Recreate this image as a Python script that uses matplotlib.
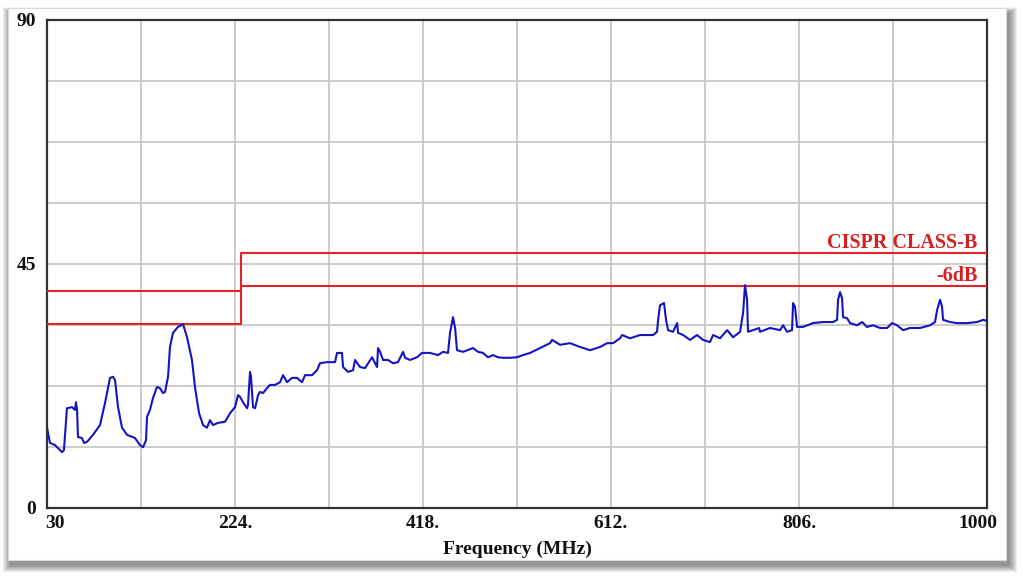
import matplotlib
matplotlib.use("Agg")
import matplotlib.pyplot as plt
import numpy as np
from matplotlib.patches import Rectangle
from matplotlib import transforms

# ---- data ----
freq_mhz = [30, 33.1, 38.3, 45.5, 47.5, 50.6, 55.8, 58.9, 59.9, 61.0, 62.0, 66.1, 68.2, 71.3, 77.5,
            84.7, 89.9, 95.0, 98.1, 100.2, 103.3, 107.4, 112.6, 120.8, 126.0, 129.1, 132.2, 133.2,
            136.3, 139.4, 143.5, 146.6, 149.7, 151.8, 154.9, 156.9, 160.0, 165.2, 170.4, 174.5,
            179.6, 182.7, 186.9, 191.0, 195.1, 198.2, 201.3, 206.5, 213.7, 218.9, 224.0, 227.1,
            229.2, 232.3, 236.4, 237.4, 239.5, 240.5, 242.6, 244.7, 247.8, 249.8, 252.9, 257.0,
            260.1, 265.3, 270.5, 273.6, 277.7, 282.8, 288.0, 293.2, 296.3, 303.5, 308.6, 311.7,
            319.0, 327.2, 329.3, 334.4, 335.5, 340.6, 345.8, 347.9, 353.0, 358.2, 365.4, 370.6,
            371.6, 373.7, 376.8, 381.9, 387.1, 392.2, 397.4, 399.5, 404.6, 411.8, 417.0, 425.3,
            433.5, 438.7, 443.8, 445.9, 449.0, 451.1, 453.1, 459.3, 469.6, 474.8, 479.9, 485.1,
            490.3, 495.4, 500.6, 507.8, 515.0, 521.2, 528.5, 538.8, 549.1, 551.2, 559.4, 569.7,
            580.1, 590.4, 600.7, 607.9, 614.1, 621.3, 623.4, 631.7, 642.0, 649.2, 655.4, 659.5,
            660.6, 662.6, 666.7, 668.8, 670.9, 676.0, 680.2, 681.2, 686.4, 693.6, 700.8, 707.0,
            714.2, 717.3, 724.5, 731.8, 738.0, 745.2, 748.3, 750.3, 752.4, 753.4, 758.6, 764.8,
            765.8, 776.1, 786.5, 789.6, 793.7, 798.8, 799.9, 801.9, 804.0, 810.2, 820.5, 830.8,
            841.2, 845.3, 846.3, 848.4, 850.4, 851.5, 855.6, 858.7, 865.9, 871.1, 876.2, 882.4,
            889.7, 896.9, 902.0, 907.2, 913.4, 920.6, 930.9, 941.3, 946.4, 948.5, 951.6, 953.6,
            954.7, 961.9, 969.1, 979.4, 989.8, 996.0, 1000]
level_db = [14.8, 12.0, 11.6, 10.3, 10.7, 18.4, 18.6, 18.1, 19.5, 18.1, 13.1, 12.9, 12.0, 12.2, 13.5,
            15.3, 19.4, 24.0, 24.2, 23.6, 18.6, 14.8, 13.5, 12.9, 11.6, 11.2, 12.5, 16.8,
            18.1, 20.3, 22.3, 22.1, 21.2, 21.4, 24.2, 29.7, 32.3, 33.4, 33.9, 31.5,
            27.3, 22.3, 17.5, 15.3, 14.8, 16.2, 15.3, 15.7, 15.9, 17.5, 18.6, 20.8,
            20.5, 19.5, 18.4, 19.0, 25.1, 24.2, 18.6, 18.4, 20.8, 21.4, 21.2, 22.1,
            22.7, 22.7, 23.2, 24.5, 23.2, 24.0, 24.0, 23.2, 24.5, 24.5, 25.4, 26.7,
            26.9, 26.9, 28.6, 28.6, 26.0, 25.1, 25.4, 27.3, 26.0, 25.8, 27.8, 26.0,
            29.5, 28.8, 27.3, 27.3, 26.7, 26.9, 28.8, 27.7, 27.3, 27.8, 28.6, 28.6,
            28.2, 28.8, 28.6, 32.3, 35.2, 33.2, 29.1, 28.8, 29.5, 28.8, 28.6, 27.8,
            28.2, 27.8, 27.7, 27.7, 27.8, 28.2, 28.6, 29.5, 30.4, 31.0, 30.1, 30.4,
            29.7, 29.1, 29.7, 30.4, 30.4, 31.3, 31.9, 31.3, 31.9, 31.9, 31.9, 32.5,
            34.7, 37.4, 37.8, 34.7, 32.8, 32.5, 34.1, 32.3, 31.9, 31.0, 31.9, 31.0,
            30.6, 31.9, 31.3, 32.8, 31.5, 32.5, 36.0, 41.1, 38.4, 32.5, 32.8, 33.2,
            32.5, 33.2, 32.8, 33.7, 32.5, 32.8, 37.8, 37.1, 33.4, 33.4, 34.1, 34.3,
            34.3, 34.7, 38.4, 39.8, 38.7, 35.2, 35.0, 34.1, 33.7, 34.3, 33.4, 33.7,
            33.2, 33.2, 34.1, 33.7, 32.8, 33.2, 33.2, 33.7, 34.3, 36.5, 38.4, 37.1,
            34.7, 34.3, 34.1, 34.1, 34.3, 34.7, 34.5]

limit_freq = [30, 230, 230, 1000]
class_b_limit = [40, 40, 47, 47]
minus6_limit = [34, 34, 41, 41]

x_ticks = [30, 224, 418, 612, 806, 1000]
x_tick_labels = ["30", "224.", "418.", "612.", "806.", "1000"]
y_ticks = [0, 45, 90]
y_tick_labels = ["0", "45", "90"]

# ---- figure ----
W, H = 1023, 578
fig = plt.figure(figsize=(W / 100, H / 100), dpi=100)
fig.patch.set_facecolor("white")

# window panel with soft shadow
px, py, pw, ph = 8, 18, 998, 552  # left, bottom(from bottom), width, height in px
for i in range(14, 0, -1):
    fig.patches.append(Rectangle(((px + 3 - i * 0.6) / W, (py - 5 - i * 0.5) / H),
                                 (pw + i * 1.2) / W, (ph + i * 0.9) / H,
                                 transform=fig.transFigure, facecolor="black",
                                 alpha=0.035, edgecolor="none", zorder=0))
fig.patches.append(Rectangle((px / W, py / H), pw / W, ph / H, transform=fig.transFigure,
                             facecolor="white", edgecolor="#d8d8d8", lw=0.8, zorder=1))

ax = fig.add_axes([47 / W, (H - 508) / H, 940 / W, 488 / H])
ax.set_zorder(2)
ax.set_facecolor("white")
ax.set_xlim(30, 1000)
ax.set_ylim(0, 90)

for v in np.arange(30 + 97, 1000, 97):
    ax.axvline(v, color="#c8c8c8", lw=1.3, zorder=1)
for v in np.arange(11.25, 90, 11.25):
    ax.axhline(v, color="#c8c8c8", lw=1.3, zorder=1)

ax.plot(limit_freq, class_b_limit, color="#e42326", lw=1.5, zorder=3)
ax.plot(limit_freq, minus6_limit, color="#e42326", lw=1.5, zorder=3)
ax.plot(freq_mhz, level_db, color="#1414c0", lw=1.5, zorder=4)

font = dict(family="Liberation Serif", weight="bold")
ax.text(990, 48.0, "CISPR CLASS-B", ha="right", va="baseline", color="#d42020",
        fontsize=14.5, **font, zorder=5)
ax.text(990, 41.9, "-6dB", ha="right", va="baseline", color="#d42020",
        fontsize=14.5, **font, zorder=5)

for s in ax.spines.values():
    s.set_color("#333333")
    s.set_linewidth(1.6)

ax.set_xticks(x_ticks)
ax.set_xticklabels(x_tick_labels, fontsize=14, **font)
ax.set_yticks(y_ticks)
ax.set_yticklabels(y_tick_labels, fontsize=14, **font)
ax.tick_params(axis="both", length=0, colors="#111111")
ax.tick_params(axis="x", pad=5)
ax.tick_params(axis="y", pad=8)

xl = ax.get_xticklabels()
xl[0].set_ha("left")
xl[0].set_transform(xl[0].get_transform() + transforms.ScaledTranslation(-2 / 100, 0, fig.dpi_scale_trans))
xl[-1].set_transform(xl[-1].get_transform() + transforms.ScaledTranslation(-9 / 100, 0, fig.dpi_scale_trans))

ax.set_xlabel("Frequency (MHz)", fontsize=14, color="#111111", labelpad=6, **font)

fig.savefig("out.png", dpi=100, facecolor="white")
